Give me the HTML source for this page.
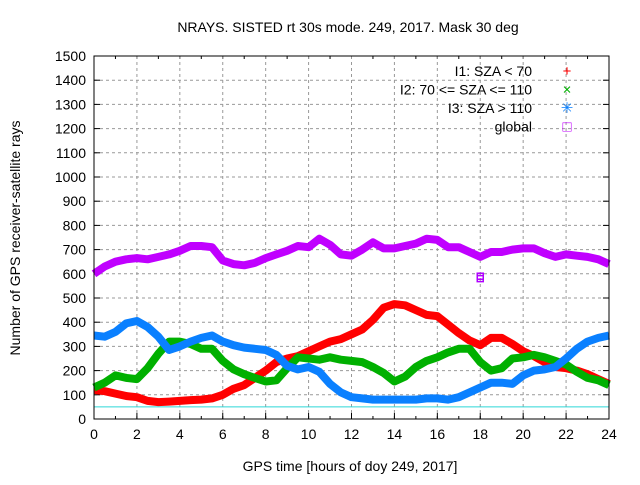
<!DOCTYPE html>
<html><head><meta charset="utf-8"><style>
body{margin:0;background:#fff;}
svg{font-family:"Liberation Sans",sans-serif;}
</style></head><body>
<svg id="c" width="640" height="480" xmlns="http://www.w3.org/2000/svg"></svg>
<script>
const hours=[0,0.5,1,1.5,2,2.5,3,3.5,4,4.5,5,5.5,6,6.5,7,7.5,8,8.5,9,9.5,10,10.5,11,11.5,12,12.5,13,13.5,14,14.5,15,15.5,16,16.5,17,17.5,18,18.5,19,19.5,20,20.5,21,21.5,22,22.5,23,23.5,24];
const i1=[120,115,105,95,90,75,70,72,75,78,80,85,100,125,140,170,200,235,250,260,280,300,320,330,350,370,410,460,475,470,450,430,425,390,355,325,305,335,335,310,280,260,235,215,210,200,185,165,145];
const i2=[130,150,180,170,165,210,270,320,320,310,290,290,240,205,185,170,155,160,210,255,250,245,255,245,240,235,215,190,155,175,215,240,255,275,290,290,235,200,210,250,255,265,255,240,225,195,170,160,140];
const i3=[345,340,360,395,405,380,340,285,300,320,335,345,320,305,295,290,285,265,220,205,215,195,145,110,90,85,80,80,80,80,80,85,85,80,90,110,130,150,150,145,180,200,205,215,250,290,320,335,345];
const glob=[600,630,650,660,665,660,670,680,695,715,715,710,655,640,635,645,665,680,695,715,710,745,720,680,675,700,730,705,705,715,725,745,740,710,710,690,670,690,690,700,705,705,685,670,680,675,670,660,640];
const outlierHours=[18,18];
const outlierVals=[590,580];
const xTicks=[0,2,4,6,8,10,12,14,16,18,20,22,24];
const yTicks=[0,100,200,300,400,500,600,700,800,900,1000,1100,1200,1300,1400,1500];
const seriesNames=["I1: SZA < 70","I2: 70 <= SZA <= 110","I3: SZA > 110","global"];
const L=94,R=609,T=56,B=419;
const sx=h=>L+(R-L)*h/24, sy=v=>B-(B-T)*v/1500;
const svg=document.getElementById('c');const NS='http://www.w3.org/2000/svg';
function mk(t,a,p){const e=document.createElementNS(NS,t);for(const k in a)e.setAttribute(k,a[k]);(p||svg).appendChild(e);return e;}
yTicks.forEach(v=>{
 if(v>0&&v<1500){const g=mk('line',{x1:L,x2:R,y1:sy(v),y2:sy(v),stroke:'#999','stroke-dasharray':'3,3'});
 
 }
 mk('line',{x1:L,x2:L+6,y1:sy(v),y2:sy(v),stroke:'#000'});
 mk('line',{x1:R,x2:R-6,y1:sy(v),y2:sy(v),stroke:'#000'});
 const t=mk('text',{x:L-8,y:sy(v)+5,'text-anchor':'end','font-size':14});t.textContent=v;
 
 
});
for(let h=0;h<=24;h++){mk('line',{x1:sx(h),x2:sx(h),y1:B,y2:B-3,stroke:'#000'});mk('line',{x1:sx(h),x2:sx(h),y1:T,y2:T+3,stroke:'#000'});}
xTicks.forEach(h=>{
 if(h>0&&h<24){const g=mk('line',{x1:sx(h),x2:sx(h),y1:T,y2:B,stroke:'#999','stroke-dasharray':'3,3'});
 
 }
 mk('line',{x1:sx(h),x2:sx(h),y1:B,y2:B-6,stroke:'#000'});
 const t=mk('text',{x:sx(h),y:B+20,'text-anchor':'middle','font-size':14});t.textContent=h;
 
 
});
const cy=mk('line',{x1:L,x2:R,y1:sy(50),y2:sy(50),stroke:'#2cd6d6','stroke-width':1});


const cols=['#ff0000','#00b000','#0a80ff','#c000ff'];
[i1,i2,i3,glob].forEach((arr,k)=>{
 const pts=arr.map((v,i)=>sx(hours[i]).toFixed(1)+','+sy(v).toFixed(1)).join(' ');
 const p=mk('polyline',{points:pts,fill:'none',stroke:cols[k],'stroke-width':8,'stroke-linejoin':'round'});
 
 
});
outlierVals.forEach((v,i)=>{
 const r=mk('rect',{x:sx(outlierHours[i])-3,y:sy(v)-3,width:6,height:6,fill:'none',stroke:'#b000ff','stroke-width':1.5});
 
 
});
const fr=mk('rect',{x:L,y:T,width:R-L,height:B-T,fill:'none',stroke:'#000'});


seriesNames.forEach((n,k)=>{
 const y=71+k*18.5;
 const t=mk('text',{x:532,y:y+5,'text-anchor':'end','font-size':14});t.textContent=n;
 
 
 const m=mk('text',{x:567,y:y+5,'text-anchor':'middle','font-size':15,fill:cols[k]});m.textContent=['+','×','✳','□'][k];
 
 
});
const title=mk('text',{x:348,y:32,'text-anchor':'middle','font-size':14});title.textContent='NRAYS. SISTED rt 30s mode. 249, 2017. Mask 30 deg';


const xl=mk('text',{x:350,y:471,'text-anchor':'middle','font-size':14});xl.textContent='GPS time [hours of doy 249, 2017]';


const yl=mk('text',{x:0,y:0,'text-anchor':'middle','font-size':14,transform:'translate(20,238) rotate(-90)'});yl.textContent='Number of GPS receiver-satellite rays';


</script>
</body></html>
